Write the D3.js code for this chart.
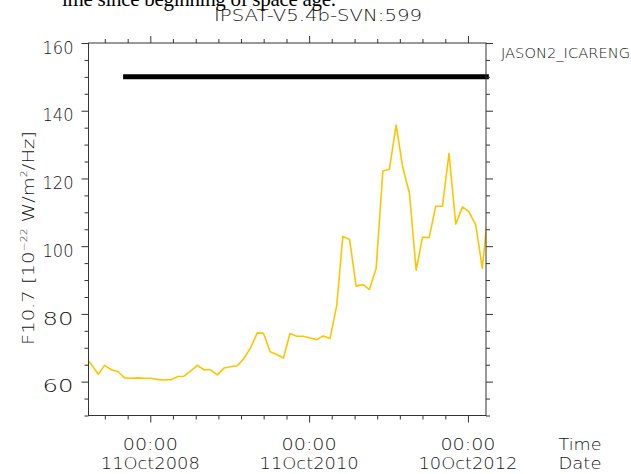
<!DOCTYPE html>
<html><head><meta charset="utf-8">
<script src="https://cdn.jsdelivr.net/npm/d3@7"></script>
<style>
html,body{margin:0;padding:0;background:#fff;}
svg{display:block;}
text{font-family:"DejaVu Sans",sans-serif;fill:#141414;font-weight:200;}
</style></head>
<body>
<svg id="chart" width="631" height="474"></svg>
<script>
// ---- data ----
const months = ["2007-12",
 "2008-01","2008-02","2008-03","2008-04","2008-05","2008-06","2008-07","2008-08","2008-09","2008-10","2008-11","2008-12",
 "2009-01","2009-02","2009-03","2009-04","2009-05","2009-06","2009-07","2009-08","2009-09","2009-10","2009-11","2009-12",
 "2010-01","2010-02","2010-03","2010-04","2010-05","2010-06","2010-07","2010-08","2010-09","2010-10","2010-11","2010-12",
 "2011-01","2011-02","2011-03","2011-04","2011-05","2011-06","2011-07","2011-08","2011-09","2011-10","2011-11","2011-12",
 "2012-01","2012-02","2012-03","2012-04","2012-05","2012-06","2012-07","2012-08","2012-09","2012-10","2012-11","2012-12",
 "2013-01"];
const f107 = [67.5,
 65.0,62.2,64.8,63.5,63.0,61.1,61.0,61.1,61.0,61.0,60.6,60.5,
 60.6,61.5,61.6,63.2,64.8,63.5,63.5,62.0,64.0,64.4,64.7,66.8,
 70.0,74.4,74.3,68.8,68.0,67.0,74.2,73.4,73.4,72.9,72.4,73.5,
 72.7,82.5,102.9,102.0,88.2,88.7,87.2,93.4,122.2,122.7,135.8,123.4,
 115.7,92.9,102.6,102.6,111.8,111.8,127.4,106.5,111.6,110.1,106.2,93.5,
 113.0];
const coverageStart = "2008-06-08";
const coverageEnd = "2013-01-14";
const coverageLevel = 150;
const xDomain = ["2008-01-01","2013-01-01"];
const yDomain = [50, 160];
const majorTickDates = ["2008-10-11","2010-10-11","2012-10-10"];
const majorTickTimes = ["00:00","00:00","00:00"];
const majorTickDays = ["11Oct2008","11Oct2010","10Oct2012"];
const yMajorTicks = [60, 80, 100, 120, 140, 160];
const yMinorStep = 5;
const xMinorPerMajor = 7;
const topNote = "ime since beginning of space age.";
const title = "IPSAT-V5.4b-SVN:599";
const sideLabel = "JASON2_ICARENG";

// ---- layout ----
const L = 88.5, R = 486, T = 43, B = 415.5;
const svg = d3.select("#chart");
const parse = d3.utcParse("%Y-%m-%d");
const x = d3.scaleUtc().domain(xDomain.map(parse)).range([L, R]);
const y = d3.scaleLinear().domain(yDomain).range([B, T]);

const data = months.map((m, i) => ({date: parse(m + "-15"), v: f107[i]}));

svg.append("clipPath").attr("id", "clip").append("rect")
  .attr("x", L).attr("y", T).attr("width", R - L).attr("height", B - T);

// top cut text
svg.append("text").attr("x", 62).attr("y", 6)
  .style("font-family", "'Liberation Serif',serif").style("font-size", "21px").style("fill", "#000")
  .style("font-weight", "400").attr("textLength", 274).attr("lengthAdjust", "spacing")
  .text(topNote);

svg.append("text").attr("x", 318).attr("y", 21).attr("text-anchor", "middle")
  .style("font-size", "16px").attr("textLength", 208).attr("lengthAdjust", "spacingAndGlyphs")
  .text(title);

// line
const line = d3.line().x(d => x(d.date)).y(d => y(d.v));
svg.append("path").datum(data).attr("clip-path", "url(#clip)")
  .attr("d", line).attr("fill", "none").attr("stroke", "#FFC400").attr("stroke-width", 1.6)
  .attr("stroke-linejoin", "round");

// coverage bar
svg.append("line")
  .attr("x1", x(parse(coverageStart))).attr("x2", x(parse(coverageEnd)))
  .attr("y1", y(coverageLevel)).attr("y2", y(coverageLevel))
  .attr("stroke", "#000").attr("stroke-width", 5);

// axes
const axisColor = "#333";
const yMinor = d3.range(yDomain[0], yDomain[1] + 0.001, yMinorStep).filter(v => !yMajorTicks.includes(v));

const leftAx = d3.axisLeft(y).tickValues(yMajorTicks).tickSize(7).tickFormat(d3.format("d")).tickPadding(8);
const gL = svg.append("g").attr("transform", `translate(${L},0)`).call(leftAx);
gL.select(".domain").remove();
gL.selectAll(".tick line").attr("stroke", axisColor);
gL.selectAll(".tick text").style("font-size", "17px").style("font-family", "'DejaVu Sans',sans-serif")
  .style("font-weight", "200").attr("fill", "#141414").attr("dy", "0.6em")
  .attr("textLength", 31).attr("lengthAdjust", "spacingAndGlyphs");
svg.append("g").attr("transform", `translate(${L},0)`)
  .call(d3.axisLeft(y).tickValues(yMinor).tickSize(4).tickFormat(""))
  .call(g => g.select(".domain").remove()).selectAll("line").attr("stroke", axisColor);

const gR = svg.append("g").attr("transform", `translate(${R},0)`);
gR.call(d3.axisRight(y).tickValues(yMajorTicks).tickSize(7).tickFormat(""))
  .call(g => g.select(".domain").remove()).selectAll("line").attr("stroke", axisColor);
svg.append("g").attr("transform", `translate(${R},0)`)
  .call(d3.axisRight(y).tickValues(yMinor).tickSize(4).tickFormat(""))
  .call(g => g.select(".domain").remove()).selectAll("line").attr("stroke", axisColor);

const majors = majorTickDates.map(parse);
const stepDays = 730 / xMinorPerMajor;
const xMinor = [];
majors.forEach(m => {
  for (let k = -xMinorPerMajor + 1; k < xMinorPerMajor; k++) {
    if (k === 0) continue;
    const d = new Date(m.getTime() + k * stepDays * 864e5);
    if (d >= x.domain()[0] && d <= x.domain()[1]) xMinor.push(d);
  }
});
const xMinorUniq = Array.from(new Set(xMinor.map(d => Math.round(d.getTime() / 864e5))))
  .map(t => new Date(t * 864e5)).filter(d => !majors.some(m => Math.abs(m - d) < 5 * 864e5));

[[B, d3.axisBottom], [T, d3.axisTop]].forEach(([py, ax]) => {
  svg.append("g").attr("transform", `translate(0,${py})`)
    .call(ax(x).tickValues(majors).tickSize(7).tickFormat(""))
    .call(g => g.select(".domain").remove()).selectAll("line").attr("stroke", axisColor);
  svg.append("g").attr("transform", `translate(0,${py})`)
    .call(ax(x).tickValues(xMinorUniq).tickSize(4).tickFormat(""))
    .call(g => g.select(".domain").remove()).selectAll("line").attr("stroke", axisColor);
});

// frame
svg.append("rect").attr("x", L).attr("y", T).attr("width", R - L).attr("height", B - T)
  .attr("fill", "none").attr("stroke", axisColor).attr("stroke-width", 1);

// x labels
const xl = svg.append("g");
majors.forEach((m, i) => {
  xl.append("text").attr("x", x(m)).attr("y", 450).attr("text-anchor", "middle")
    .style("font-size", "16px").attr("textLength", 55).attr("lengthAdjust", "spacingAndGlyphs").text(majorTickTimes[i]);
  xl.append("text").attr("x", x(m)).attr("y", 469).attr("text-anchor", "middle")
    .style("font-size", "16px").attr("textLength", 99).attr("lengthAdjust", "spacingAndGlyphs").text(majorTickDays[i]);
});
xl.append("text").attr("x", 580).attr("y", 450).attr("text-anchor", "middle").style("font-size", "16px")
  .attr("textLength", 43).attr("lengthAdjust", "spacingAndGlyphs").text("Time");
xl.append("text").attr("x", 580).attr("y", 469).attr("text-anchor", "middle").style("font-size", "16px")
  .attr("textLength", 43).attr("lengthAdjust", "spacingAndGlyphs").text("Date");

// side label
svg.append("text").attr("x", 501).attr("y", 58).style("font-size", "14px")
  .attr("textLength", 129).attr("lengthAdjust", "spacingAndGlyphs").text(sideLabel);

// y label
const yl = svg.append("text").attr("transform", "translate(34,238) rotate(-90)")
  .attr("text-anchor", "middle").style("font-size", "16px")
  .attr("textLength", 214).attr("lengthAdjust", "spacingAndGlyphs");
yl.append("tspan").text("F10.7 [10");
yl.append("tspan").attr("dy", -7).style("font-size", "9px").text("−22");
yl.append("tspan").attr("dy", 7).text(" W/m");
yl.append("tspan").attr("dy", -7).style("font-size", "9px").text("2");
yl.append("tspan").attr("dy", 7).text("/Hz]");
</script>
</body></html>
